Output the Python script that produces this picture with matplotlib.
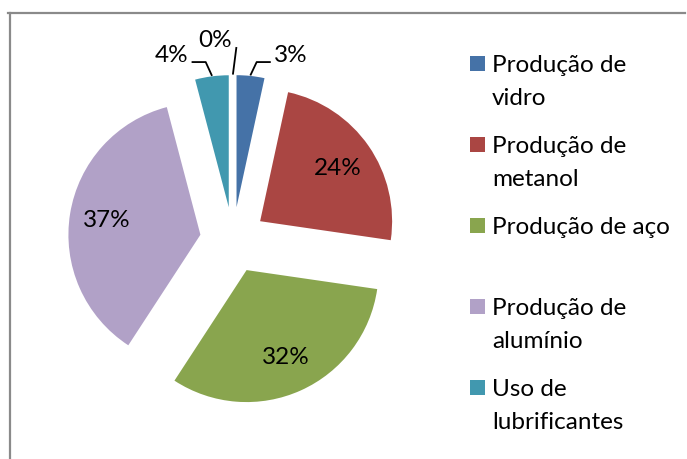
import matplotlib
matplotlib.use('Agg')
import numpy as np
import matplotlib.pyplot as plt
from matplotlib.patches import Rectangle
from matplotlib.lines import Line2D

plt.rcParams['font.family'] = ['Lato', 'DejaVu Sans']

categorias = ["Produção de\nvidro", "Produção de\nmetanol", "Produção de aço",
              "Produção de\nalumínio", "Uso de\nlubrificantes", "Outros"]
valores = [3.4, 23.9, 31.9, 36.7, 4.1, 0.0]
cores = ["#4572A7", "#AA4643", "#89A54E", "#B1A1C7", "#4198AF", "#DB843D"]
n_legenda = 5

W, H = 687, 460
fig = plt.figure(figsize=(W/100, H/100), dpi=100)

# frame (top + left only visible)
fig.add_artist(Line2D([8/W, 685/W], [1-14/H, 1-14/H], color="#8a8a8a", lw=1.6))
fig.add_artist(Line2D([10/W, 10/W], [0, 1-14/H], color="#8a8a8a", lw=1.6))

# pie axes: radius 1 -> 132 px, centre at (233, 241) px from top-left
R = 132.0
cx, cy = 233.0, H-241.0
ax = fig.add_axes([(cx-1.5*R)/W, (cy-1.5*R)/H, 3*R/W, 3*R/H])
total = sum(valores)
wedges, _ = ax.pie(valores, colors=cores, startangle=90, counterclock=False,
                   explode=[0.25]*len(valores), radius=1.0,
                   wedgeprops=dict(linewidth=0))
ax.set_xlim(-1.5, 1.5)
ax.set_ylim(-1.5, 1.5)
ax.axis('off')

fs = 17.5
cum = 0.0
for i, v in enumerate(valores):
    mid = (cum + v/2)/total*2*np.pi   # clockwise from top
    cum += v
    dx, dy = np.sin(mid), np.cos(mid)
    ox, oy = 0.25*dx, 0.25*dy
    txt = "%d%%" % round(v)
    if v > 10:
        ax.text(ox + 0.72*dx, oy + 0.72*dy, txt, ha='center', va='center', fontsize=fs)
    else:
        x0, y0 = ox + 1.01*dx, oy + 1.01*dy
        if v == 0:
            ax.plot([x0, x0+0.025], [y0, 1.455], color='black', lw=1.3, clip_on=False)
            ax.text(x0-0.01, 1.44, txt, ha='right', va='bottom', fontsize=fs)
        else:
            sgn = 1 if dx > 0 else -1
            ye = 1.348
            xe = x0 + sgn*0.045
            ax.plot([x0, xe, xe+sgn*0.1], [y0, ye, ye], color='black', lw=1.3, clip_on=False)
            ax.text(xe+sgn*0.13, ye+0.06, txt, ha='left' if sgn > 0 else 'right',
                    va='center', fontsize=fs)

# legend (square bottom sits on the first line's baseline)
for i in range(n_legenda):
    ybase = 72 + 81*i
    fig.add_artist(Rectangle((470/W, 1-ybase/H), 15/W, 15/H,
                             transform=fig.transFigure, color=cores[i], lw=0))
    for j, linha in enumerate(categorias[i].split("\n")):
        fig.text(492/W, 1-(ybase+33*j)/H, linha, ha='left', va='baseline', fontsize=fs)

fig.savefig("out.png", dpi=100)
